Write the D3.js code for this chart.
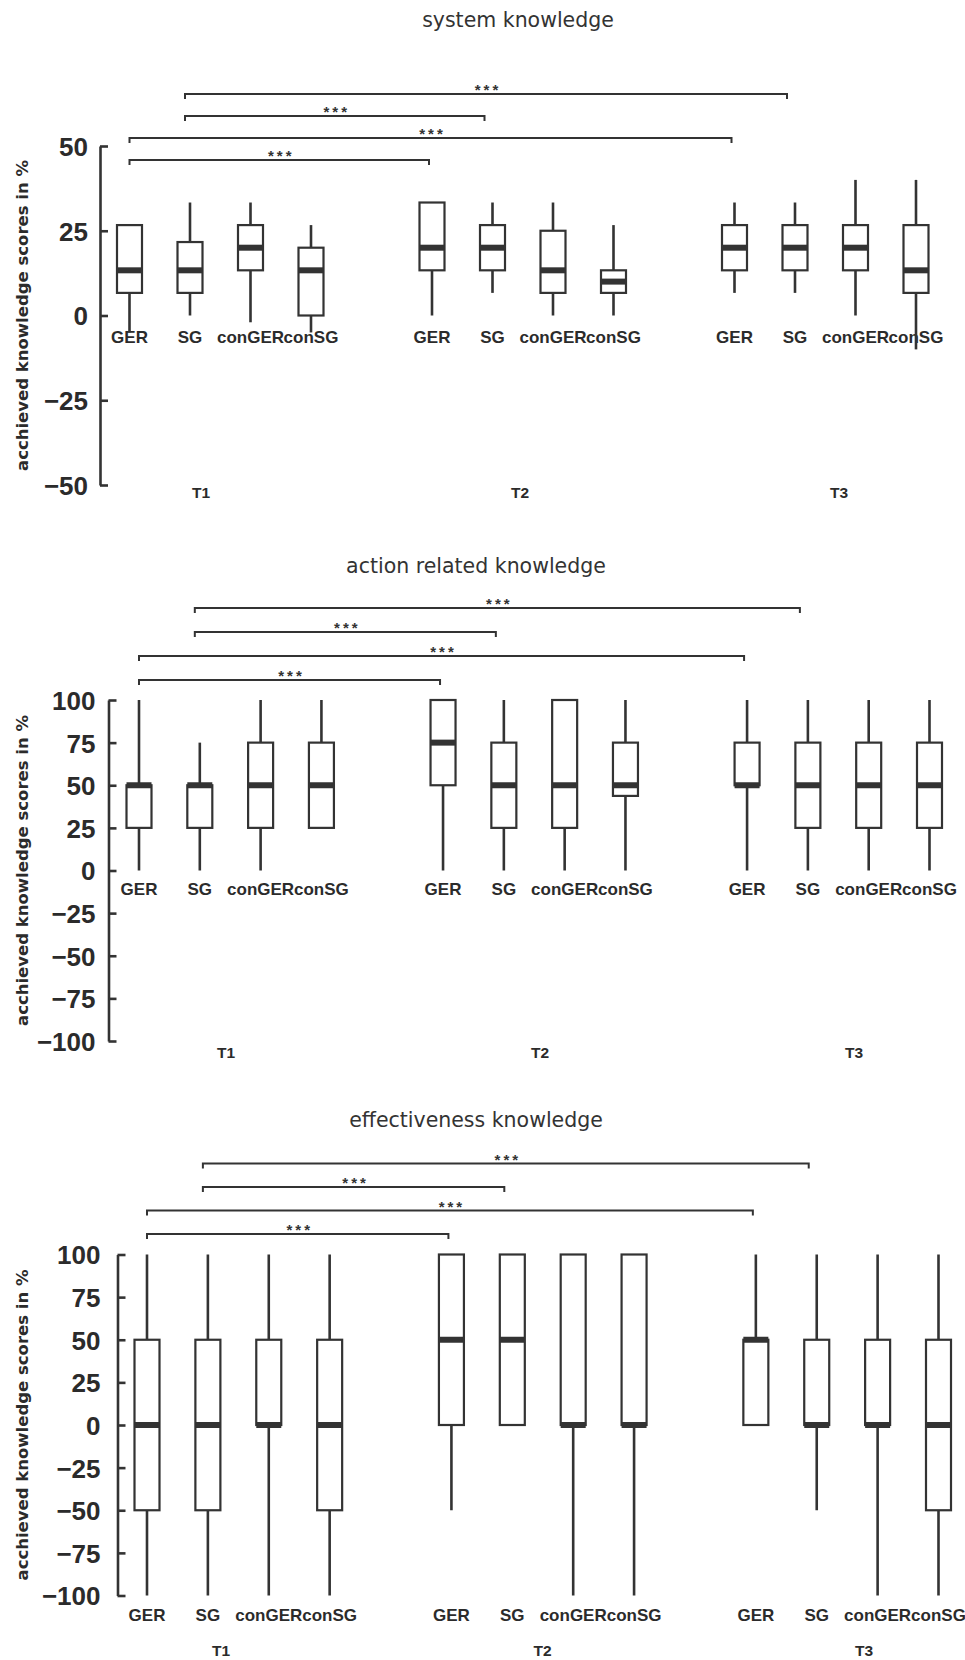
<!DOCTYPE html>
<html>
<head>
<meta charset="utf-8">
<script src="https://cdn.jsdelivr.net/npm/d3@7"></script>
<style>
  body { margin: 0; background: #fff; }
  svg { display: block; }
  text { fill: #2b2b2b; }
</style>
</head>
<body>
<svg id="chart" width="965" height="1660"></svg>
<script>
const times = ["T1", "T2", "T3"];
const groups = ["GER", "SG", "conGER", "conSG"];
const titles = ["system knowledge", "action related knowledge", "effectiveness knowledge"];
const yLabel = "acchieved knowledge scores in %";
const ticksSystem = [-50, -25, 0, 25, 50];
const ticksWide = [-100, -75, -50, -25, 0, 25, 50, 75, 100];

// [lower whisker, Q1, median, Q3, upper whisker]; T1, T2, T3, each GER, SG, conGER, conSG
const systemStats = [
  [-5, 6.67, 13.33, 26.67, 26.67],
  [0, 6.67, 13.33, 21.67, 33.33],
  [-2, 13.33, 20, 26.67, 33.33],
  [-5, 0, 13.33, 20, 26.67],
  [0, 13.33, 20, 33.33, 33.33],
  [6.67, 13.33, 20, 26.67, 33.33],
  [0, 6.67, 13.33, 25, 33.33],
  [0, 6.67, 10, 13.33, 26.67],
  [6.67, 13.33, 20, 26.67, 33.33],
  [6.67, 13.33, 20, 26.67, 33.33],
  [0, 13.33, 20, 26.67, 40],
  [-10, 6.67, 13.33, 26.67, 40]
];
const actionStats = [
  [0, 25, 50, 50, 100],
  [0, 25, 50, 50, 75],
  [0, 25, 50, 75, 100],
  [25, 25, 50, 75, 100],
  [0, 50, 75, 100, 100],
  [0, 25, 50, 75, 100],
  [0, 25, 50, 100, 100],
  [0, 43.75, 50, 75, 100],
  [0, 50, 50, 75, 100],
  [0, 25, 50, 75, 100],
  [0, 25, 50, 75, 100],
  [0, 25, 50, 75, 100]
];
const effectStats = [
  [-100, -50, 0, 50, 100],
  [-100, -50, 0, 50, 100],
  [-100, 0, 0, 50, 100],
  [-100, -50, 0, 50, 100],
  [-50, 0, 50, 100, 100],
  [0, 0, 50, 100, 100],
  [-100, 0, 0, 100, 100],
  [-100, 0, 0, 100, 100],
  [0, 0, 50, 50, 100],
  [-50, 0, 0, 50, 100],
  [-100, 0, 0, 50, 100],
  [-100, -50, 0, 50, 100]
];

// significant comparisons, same in every panel
const pairs = [
  [["T1", "GER"], ["T2", "GER"]],
  [["T1", "GER"], ["T3", "GER"]],
  [["T1", "SG"], ["T2", "SG"]],
  [["T1", "SG"], ["T3", "SG"]]
];
const pairLabel = "***";

const panels = [
  { title: titles[0], stats: systemStats, ticks: ticksSystem, domain: [-50, 50],
    titleX: 518, titleY: 20, axisX: 100, yTop: 146, yBottom: 485, x0: 129.5, x1: 916,
    catY: 337, timeY: 492, timeRange: [201, 839], bracketY: 160, bracketStep: 22, labelGap: 12 },
  { title: titles[1], stats: actionStats, ticks: ticksWide, domain: [-100, 100],
    titleX: 476, titleY: 566, axisX: 108.5, yTop: 700, yBottom: 1041, x0: 139, x1: 929.5,
    catY: 889, timeY: 1052, timeRange: [226, 854], bracketY: 680, bracketStep: 24, labelGap: 13 },
  { title: titles[2], stats: effectStats, ticks: ticksWide, domain: [-100, 100],
    titleX: 476, titleY: 1120, axisX: 117.5, yTop: 1254.5, yBottom: 1595.5, x0: 147, x1: 938.5,
    catY: 1615, timeY: 1650, timeRange: [221, 864], bracketY: 1234, bracketStep: 23.5, labelGap: 17 }
];

const ink = "#333";
const boxW = 25;

// slots: 4 boxes per time point, one empty slot between time points
const slots = [];
times.forEach((t, i) => {
  groups.forEach(g => slots.push(t + "|" + g));
  if (i < times.length - 1) slots.push("gap" + i);
});

const svg = d3.select("#chart");

panels.forEach(p => {
  const g = svg.append("g");
  const x = d3.scalePoint().domain(slots).range([p.x0, p.x1]);
  const y = d3.scaleLinear().domain(p.domain).range([p.yBottom, p.yTop]);
  const tx = d3.scalePoint().domain(times).range(p.timeRange);

  const rows = [];
  times.forEach((t, ti) => groups.forEach((gr, gi) => {
    const s = p.stats[ti * groups.length + gi];
    rows.push({ time: t, group: gr, lo: s[0], q1: s[1], med: s[2], q3: s[3], hi: s[4] });
  }));

  // title
  g.append("text")
    .attr("x", p.titleX).attr("y", p.titleY).attr("dy", "0.35em")
    .attr("text-anchor", "middle")
    .style("font-family", "'DejaVu Sans', sans-serif")
    .style("font-size", "20.5px")
    .style("fill", ink)
    .text(p.title);

  // y axis
  const axis = g.append("g")
    .attr("transform", `translate(${p.axisX},0)`)
    .call(d3.axisRight(y).tickValues(p.ticks).tickSize(8).tickSizeOuter(0).tickFormat(d3.format("d")));
  axis.select(".domain").attr("stroke", ink).attr("stroke-width", 2.6);
  axis.selectAll(".tick line").attr("stroke", ink).attr("stroke-width", 2.6);
  axis.selectAll(".tick text")
    .attr("x", -p.labelGap).attr("dy", "0.36em")
    .attr("text-anchor", "end")
    .style("font-family", "'Liberation Sans', Arial, sans-serif")
    .style("font-weight", "bold")
    .style("font-size", "26px")
    .style("fill", "#2b2b2b");

  g.append("text")
    .attr("transform", `translate(22,${(p.yTop + p.yBottom) / 2}) rotate(-90)`)
    .attr("dy", "0.35em")
    .attr("text-anchor", "middle")
    .style("font-family", "'DejaVu Sans', sans-serif")
    .style("font-weight", "bold")
    .style("font-size", "16.5px")
    .text(yLabel);

  // category labels (drawn under the boxes)
  g.selectAll(".cat").data(rows).enter().append("text")
    .attr("x", d => x(d.time + "|" + d.group))
    .attr("y", p.catY).attr("dy", "0.36em")
    .attr("text-anchor", "middle")
    .style("font-family", "'Liberation Sans', Arial, sans-serif")
    .style("font-weight", "bold")
    .style("font-size", "17px")
    .text(d => d.group);

  g.selectAll(".time").data(times).enter().append("text")
    .attr("x", d => tx(d))
    .attr("y", p.timeY).attr("dy", "0.36em")
    .attr("text-anchor", "middle")
    .style("font-family", "'Liberation Sans', Arial, sans-serif")
    .style("font-weight", "bold")
    .style("font-size", "15.5px")
    .text(d => d);

  // boxes
  const box = g.selectAll(".box").data(rows).enter().append("g")
    .attr("transform", d => `translate(${x(d.time + "|" + d.group)},0)`);

  box.append("line")
    .attr("y1", d => y(d.hi)).attr("y2", d => y(d.lo))
    .attr("stroke", ink).attr("stroke-width", 2.6);

  box.append("rect")
    .attr("x", -boxW / 2).attr("width", boxW)
    .attr("y", d => y(d.q3)).attr("height", d => y(d.q1) - y(d.q3))
    .attr("fill", "#fff").attr("stroke", ink).attr("stroke-width", 2.2);

  box.append("line")
    .attr("x1", -boxW / 2).attr("x2", boxW / 2)
    .attr("y1", d => y(d.med)).attr("y2", d => y(d.med))
    .attr("stroke", ink).attr("stroke-width", 6);

  // significance brackets
  const nudge = gr => gr === "SG" ? 5 : 0;
  pairs.forEach((pr, i) => {
    const a = x(pr[0][0] + "|" + pr[0][1]) - nudge(pr[0][1]);
    const b = x(pr[1][0] + "|" + pr[1][1]) - 3 - nudge(pr[1][1]);
    const by = p.bracketY - i * p.bracketStep;
    g.append("path")
      .attr("d", `M${a},${by + 5}V${by}H${b}V${by + 5}`)
      .attr("fill", "none").attr("stroke", ink).attr("stroke-width", 2);
    g.append("text")
      .attr("x", (a + b) / 2 + 2).attr("y", by + 1)
      .attr("text-anchor", "middle")
      .style("font-family", "'Liberation Sans', Arial, sans-serif")
      .style("font-size", "15px")
      .style("font-weight", "bold")
      .style("letter-spacing", "3px")
      .style("fill", ink)
      .text(pairLabel);
  });
});
</script>
</body>
</html>
